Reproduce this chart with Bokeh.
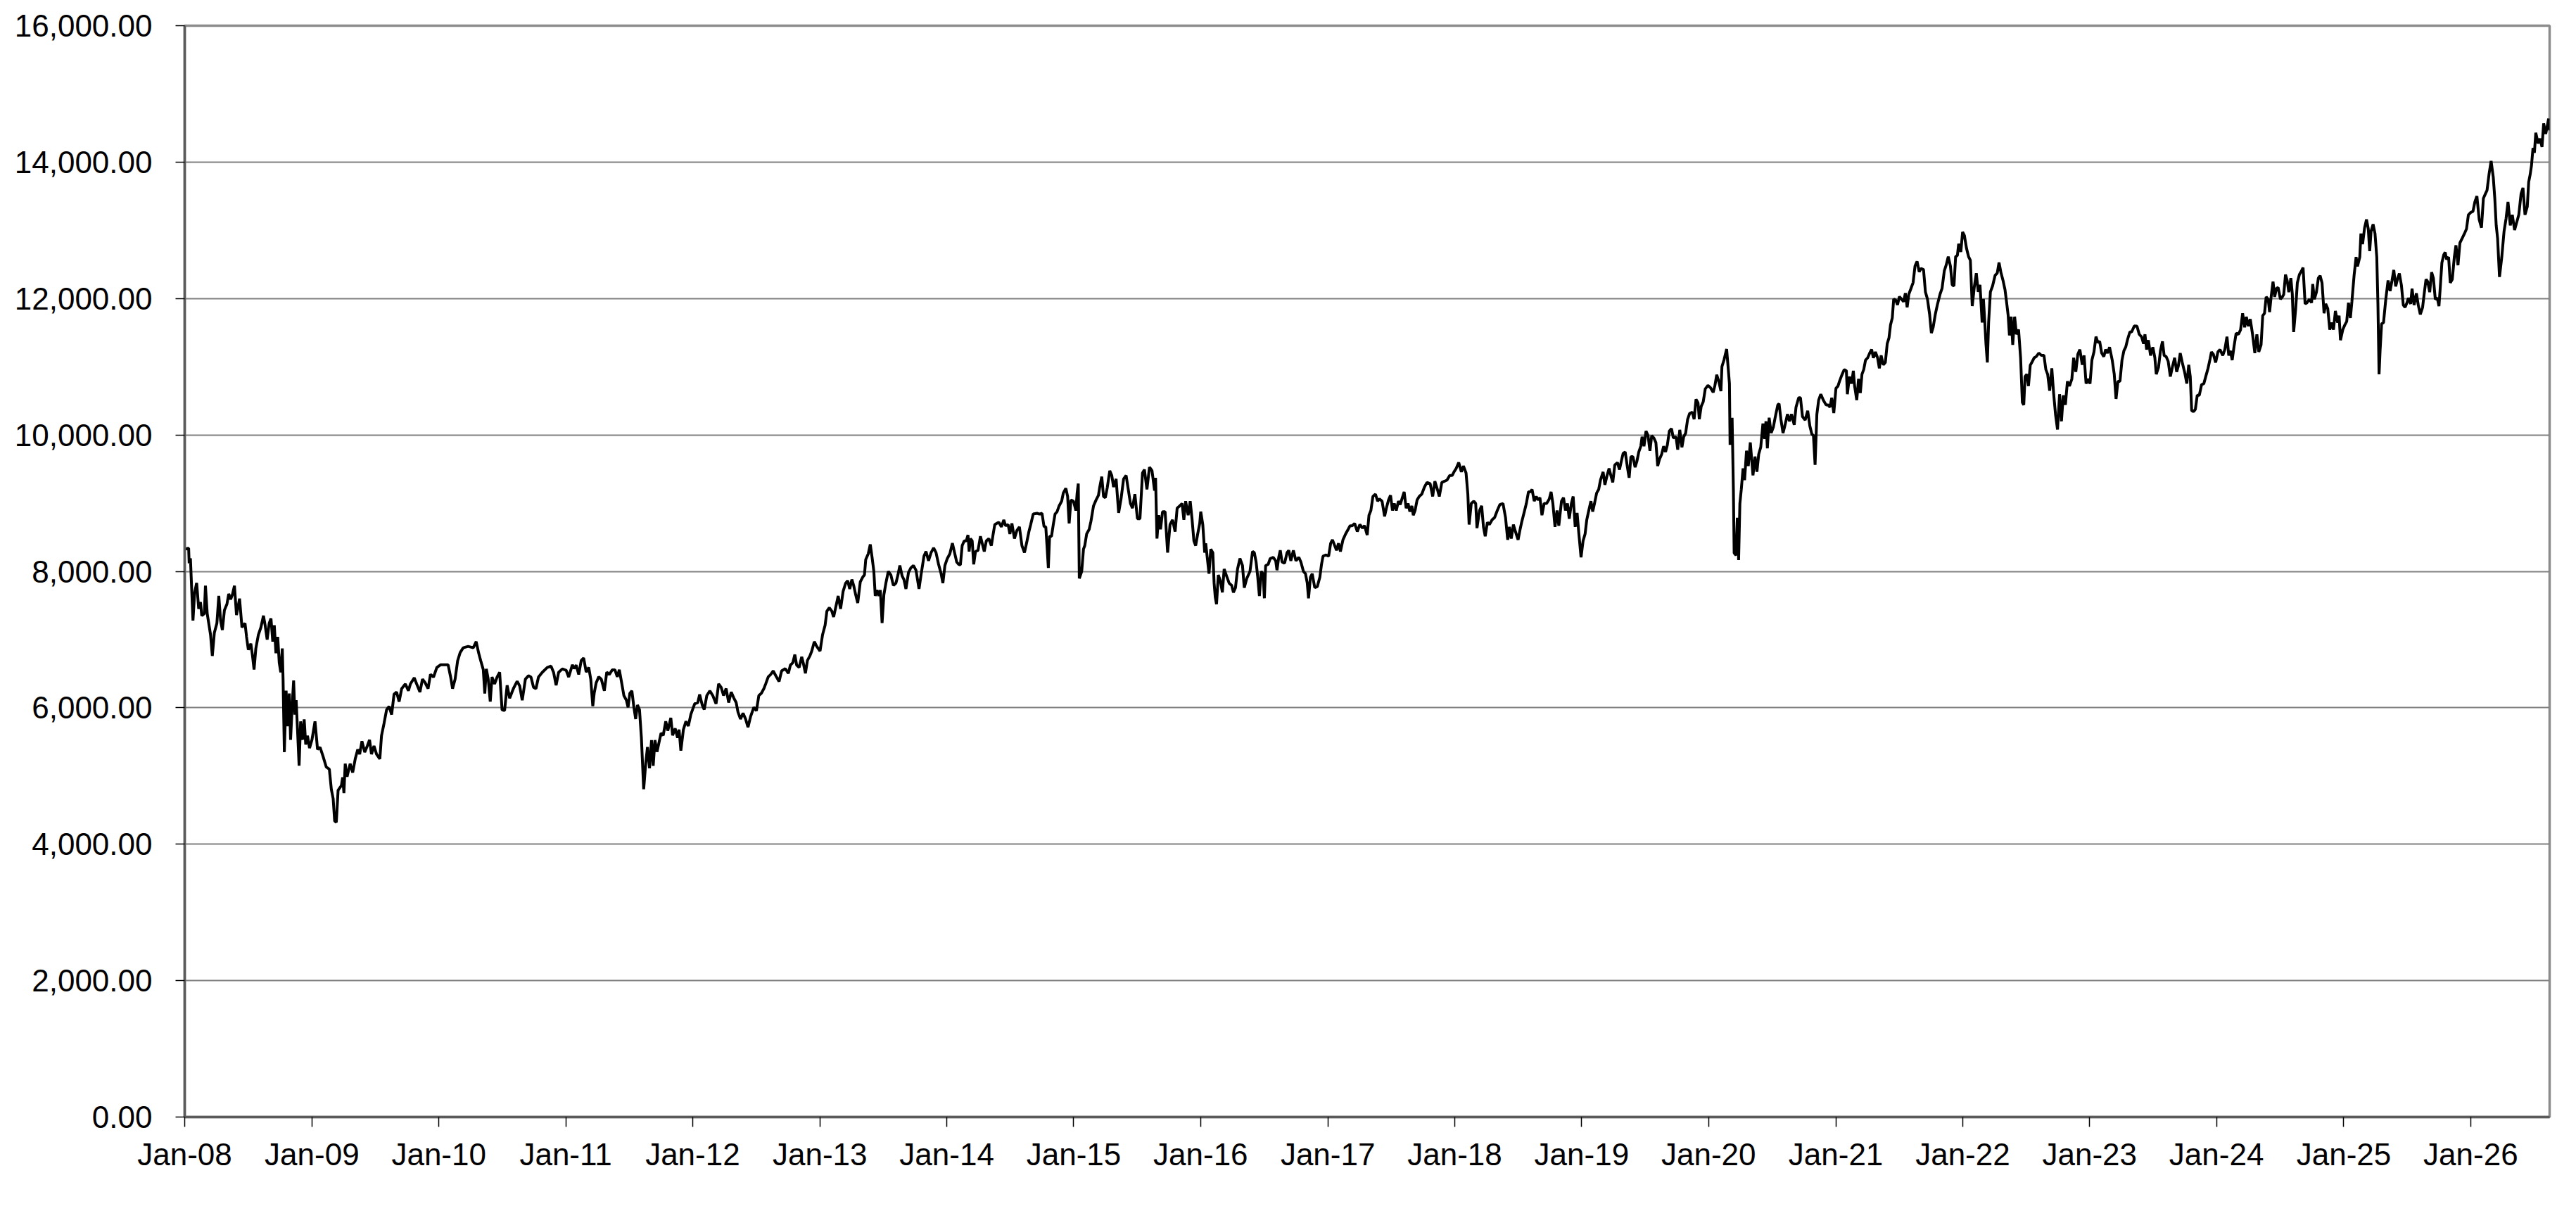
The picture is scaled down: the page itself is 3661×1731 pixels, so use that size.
from datetime import datetime
from bokeh.plotting import figure
from bokeh.models import Range1d, FixedTicker, NumeralTickFormatter, DatetimeTickFormatter
from bokeh.embed import file_html
from bokeh.resources import INLINE

# ---- data: decimal-year dates and index levels ----
years_2008_2010 = [2008.005, 2008.031, 2008.035, 2008.045, 2008.065, 2008.078, 2008.094, 2008.110, 2008.124, 2008.134,
    2008.154, 2008.163, 2008.177, 2008.203, 2008.217, 2008.233, 2008.253, 2008.268, 2008.282, 2008.296,
    2008.312, 2008.332, 2008.346, 2008.361, 2008.375, 2008.391, 2008.407, 2008.431, 2008.450, 2008.474,
    2008.486, 2008.500, 2008.520, 2008.533, 2008.545, 2008.559, 2008.579, 2008.599, 2008.619, 2008.632,
    2008.648, 2008.664, 2008.678, 2008.692, 2008.704, 2008.717, 2008.731, 2008.743, 2008.755, 2008.767,
    2008.773, 2008.783, 2008.797, 2008.810, 2008.822, 2008.832, 2008.846, 2008.856, 2008.866, 2008.876,
    2008.886, 2008.899, 2008.911, 2008.925, 2008.939, 2008.951, 2008.965, 2008.981, 2009.000, 2009.024,
    2009.044, 2009.064, 2009.087, 2009.113, 2009.137, 2009.153, 2009.167, 2009.179, 2009.192, 2009.206,
    2009.232, 2009.242, 2009.252, 2009.262, 2009.277, 2009.301, 2009.321, 2009.341, 2009.361, 2009.376,
    2009.394, 2009.416, 2009.436, 2009.454, 2009.469, 2009.489, 2009.509, 2009.535, 2009.548, 2009.568,
    2009.588, 2009.608, 2009.628, 2009.647, 2009.667, 2009.687, 2009.707, 2009.736, 2009.760, 2009.776,
    2009.806, 2009.825, 2009.851, 2009.871, 2009.891, 2009.915, 2009.934, 2009.958, 2009.984, 2010.013,
    2010.043, 2010.073, 2010.093, 2010.108, 2010.128, 2010.148, 2010.168, 2010.192, 2010.231, 2010.271,
    2010.294, 2010.314, 2010.330, 2010.350, 2010.362, 2010.374, 2010.389, 2010.405, 2010.419, 2010.439,
    2010.459, 2010.479, 2010.498, 2010.518, 2010.538, 2010.558, 2010.587, 2010.617, 2010.637, 2010.657,
    2010.682, 2010.706, 2010.726, 2010.746, 2010.765, 2010.785, 2010.815, 2010.854, 2010.884, 2010.904,
    2010.924, 2010.944, 2010.973, 2011.003, 2011.023, 2011.052]
values_2008_2010 = [8326, 8340, 8120, 8190, 7280, 7690, 7830, 7450, 7550, 7350,
    7380, 7790, 7380, 7070, 6760, 7100, 7240, 7640, 7280, 7140,
    7430, 7520, 7670, 7590, 7660, 7790, 7360, 7600, 7180, 7240,
    7040, 6850, 6940, 6760, 6560, 6870, 7070, 7180, 7350, 7210,
    7000, 7240, 7310, 6970, 7210, 6800, 7040, 6660, 6520, 6870,
    6420, 5350, 6250, 5730, 6210, 5530, 6080, 6400, 5900, 6110,
    5700, 5150, 5800, 5530, 5830, 5460, 5590, 5410, 5530, 5800,
    5390, 5420, 5290, 5130, 5100, 4800, 4670, 4340, 4320, 4790,
    4860, 4980, 4750, 5180, 4990, 5180, 5050, 5250, 5390, 5320,
    5510, 5350, 5440, 5530, 5320, 5440, 5320, 5250, 5590, 5770,
    5970, 6020, 5900, 6200, 6230, 6090, 6280, 6350, 6250, 6350,
    6440, 6350, 6230, 6420, 6370, 6280, 6490, 6450, 6590, 6630,
    6630, 6630, 6450, 6280, 6420, 6690, 6810, 6880, 6900, 6880,
    6970, 6800, 6690, 6560, 6210, 6570, 6420, 6090, 6450, 6350,
    6450, 6520, 5970, 5960, 6330, 6140, 6280, 6390, 6320, 6110,
    6420, 6470, 6450, 6300, 6280, 6450, 6520, 6590, 6610, 6520,
    6330, 6520, 6570, 6550, 6450, 6630]

years_2011_2013 = [2011.066, 2011.082, 2011.102, 2011.122, 2011.141, 2011.161, 2011.181, 2011.197, 2011.213, 2011.224,
    2011.240, 2011.260, 2011.280, 2011.304, 2011.323, 2011.343, 2011.367, 2011.387, 2011.406, 2011.422,
    2011.442, 2011.458, 2011.478, 2011.491, 2011.505, 2011.521, 2011.537, 2011.551, 2011.565, 2011.581,
    2011.596, 2011.614, 2011.630, 2011.644, 2011.660, 2011.676, 2011.689, 2011.703, 2011.719, 2011.735,
    2011.751, 2011.768, 2011.788, 2011.804, 2011.828, 2011.842, 2011.862, 2011.881, 2011.893, 2011.907,
    2011.927, 2011.947, 2011.966, 2011.986, 2012.016, 2012.040, 2012.055, 2012.075, 2012.091, 2012.111,
    2012.135, 2012.158, 2012.184, 2012.204, 2012.224, 2012.243, 2012.263, 2012.283, 2012.303, 2012.323,
    2012.342, 2012.356, 2012.376, 2012.396, 2012.416, 2012.435, 2012.455, 2012.481, 2012.501, 2012.520,
    2012.540, 2012.560, 2012.574, 2012.594, 2012.613, 2012.633, 2012.653, 2012.679, 2012.699, 2012.728,
    2012.752, 2012.768, 2012.787, 2012.803, 2012.817, 2012.837, 2012.857, 2012.871, 2012.886, 2012.902,
    2012.922, 2012.936, 2012.956, 2012.975, 2013.001, 2013.021, 2013.041, 2013.055, 2013.074, 2013.094,
    2013.108, 2013.124, 2013.144, 2013.163, 2013.183, 2013.203, 2013.219, 2013.235, 2013.252, 2013.266,
    2013.282, 2013.298, 2013.318, 2013.337, 2013.351, 2013.361, 2013.381, 2013.397, 2013.411, 2013.425,
    2013.436, 2013.450, 2013.464, 2013.476, 2013.490, 2013.504, 2013.520, 2013.539, 2013.559, 2013.579,
    2013.599, 2013.615, 2013.630, 2013.648, 2013.662, 2013.678, 2013.698, 2013.717, 2013.737, 2013.757,
    2013.781, 2013.797, 2013.820, 2013.836, 2013.856, 2013.876, 2013.896, 2013.915, 2013.935, 2013.955,
    2013.969, 2013.985, 2014.004, 2014.024, 2014.044]
values_2011_2013 = [6574, 6625, 6488, 6694, 6729, 6523, 6591, 6419, 6024, 6213,
    6368, 6454, 6419, 6248, 6523, 6488, 6557, 6557, 6454, 6557,
    6351, 6179, 6110, 6007, 6213, 6248, 6007, 5835, 6041, 5973,
    5560, 4805, 5183, 5423, 5114, 5526, 5148, 5526, 5354, 5492,
    5629, 5595, 5801, 5664, 5853, 5595, 5698, 5560, 5681, 5371,
    5681, 5801, 5732, 5904, 6059, 6076, 6196, 6041, 5973, 6179,
    6248, 6179, 6059, 6351, 6299, 6179, 6282, 6076, 6230, 6145,
    6076, 5938, 5835, 5921, 5835, 5715, 5870, 6007, 5956, 6179,
    6213, 6282, 6351, 6454, 6488, 6540, 6471, 6385, 6540, 6574,
    6505, 6626, 6660, 6780, 6626, 6591, 6746, 6643, 6505, 6694,
    6763, 6832, 6969, 6900, 6832, 7072, 7210, 7416, 7467, 7416,
    7330, 7467, 7639, 7450, 7708, 7828, 7863, 7742, 7880, 7794,
    7656, 7536, 7845, 7914, 7948, 8172, 8258, 8395, 8206, 8000,
    7639, 7725, 7639, 7725, 7244, 7656, 7828, 8000, 7948, 7794,
    7828, 7948, 8086, 7931, 7880, 7742, 7983, 8052, 8086, 8017,
    7742, 7948, 8223, 8292, 8155, 8275, 8344, 8275, 8103, 7966,
    7828, 8086, 8189, 8258, 8412]

years_2014_2016 = [2014.078, 2014.093, 2014.107, 2014.121, 2014.137, 2014.153, 2014.167, 2014.176, 2014.186, 2014.200,
    2014.212, 2014.226, 2014.246, 2014.265, 2014.279, 2014.295, 2014.311, 2014.331, 2014.351, 2014.364,
    2014.378, 2014.394, 2014.410, 2014.430, 2014.449, 2014.463, 2014.483, 2014.497, 2014.513, 2014.533,
    2014.552, 2014.572, 2014.592, 2014.612, 2014.632, 2014.647, 2014.661, 2014.681, 2014.711, 2014.730,
    2014.750, 2014.766, 2014.780, 2014.790, 2014.800, 2014.810, 2014.825, 2014.839, 2014.853, 2014.869,
    2014.885, 2014.905, 2014.918, 2014.938, 2014.952, 2014.964, 2014.978, 2014.998, 2015.017, 2015.027,
    2015.036, 2015.044, 2015.063, 2015.077, 2015.087, 2015.102, 2015.122, 2015.136, 2015.156, 2015.176,
    2015.195, 2015.205, 2015.221, 2015.235, 2015.249, 2015.265, 2015.284, 2015.300, 2015.314, 2015.334,
    2015.354, 2015.373, 2015.393, 2015.413, 2015.427, 2015.447, 2015.463, 2015.482, 2015.502, 2015.522,
    2015.542, 2015.557, 2015.577, 2015.597, 2015.617, 2015.637, 2015.645, 2015.656, 2015.670, 2015.684,
    2015.700, 2015.720, 2015.740, 2015.759, 2015.779, 2015.799, 2015.815, 2015.835, 2015.854, 2015.868,
    2015.882, 2015.902, 2015.918, 2015.933, 2015.947, 2015.961, 2015.977, 2015.993, 2016.001, 2016.017,
    2016.032, 2016.040, 2016.056, 2016.066, 2016.080, 2016.096, 2016.106, 2016.115, 2016.125, 2016.139,
    2016.155, 2016.171, 2016.185, 2016.204, 2016.224, 2016.244, 2016.258, 2016.274, 2016.290, 2016.309,
    2016.329, 2016.343, 2016.363, 2016.388, 2016.408, 2016.422, 2016.436, 2016.448, 2016.462, 2016.476,
    2016.491, 2016.501, 2016.511, 2016.531, 2016.547, 2016.571, 2016.590, 2016.600, 2016.614, 2016.626,
    2016.640, 2016.660, 2016.679, 2016.693, 2016.709, 2016.729, 2016.749, 2016.772, 2016.788, 2016.808,
    2016.824, 2016.838, 2016.848, 2016.863, 2016.877, 2016.897, 2016.917, 2016.937, 2016.950, 2016.962,
    2016.986, 2017.006, 2017.022, 2017.036]
values_2014_2016 = [8137, 8103, 8096, 8377, 8446, 8446, 8532, 8291, 8480, 8446,
    8103, 8291, 8308, 8514, 8411, 8291, 8446, 8480, 8377, 8532,
    8686, 8703, 8720, 8652, 8755, 8669, 8686, 8549, 8703, 8480,
    8600, 8652, 8377, 8274, 8446, 8583, 8686, 8840, 8851, 8840,
    8851, 8658, 8652, 8360, 8051, 8514, 8514, 8686, 8840, 8875,
    8960, 9029, 9149, 9218, 9098, 8703, 9046, 9029, 8892, 9149,
    9286, 7897, 8000, 8326, 8377, 8549, 8617, 8737, 8960, 9046,
    9115, 9235, 9389, 9098, 9080, 9235, 9475, 9406, 9235, 9355,
    8857, 9063, 9355, 9406, 9235, 8995, 8926, 9132, 8772, 8772,
    9441, 9492, 9201, 9527, 9475, 9183, 9372, 8480, 8823, 8617,
    8875, 8875, 8274, 8686, 8755, 8583, 8926, 8960, 8995, 8755,
    9029, 8823, 9029, 8755, 8446, 8377, 8549, 8703, 8875, 8686,
    8274, 8411, 8137, 7965, 8326, 8274, 7828, 7622, 7519, 7948,
    7862, 7691, 8034, 7931, 7828, 7794, 7691, 7760, 8034, 8188,
    8085, 7760, 7897, 8000, 8291, 8274, 8137, 7931, 7639, 8000,
    7965, 7605, 8085, 8103, 8188, 8206, 8154, 8017, 8206, 8308,
    8137, 8120, 8274, 8308, 8154, 8308, 8154, 8206, 8137, 8000,
    7965, 7828, 7605, 7914, 7965, 7760, 7777, 7914, 8103, 8223,
    8240, 8223, 8411, 8463]

years_2017_2020 = [2017.068, 2017.084, 2017.099, 2017.119, 2017.140, 2017.160, 2017.175, 2017.191, 2017.211, 2017.232,
    2017.252, 2017.273, 2017.289, 2017.310, 2017.324, 2017.339, 2017.355, 2017.375, 2017.392, 2017.406,
    2017.427, 2017.447, 2017.461, 2017.478, 2017.494, 2017.509, 2017.523, 2017.539, 2017.556, 2017.570,
    2017.584, 2017.601, 2017.617, 2017.632, 2017.646, 2017.662, 2017.673, 2017.687, 2017.703, 2017.720,
    2017.740, 2017.761, 2017.781, 2017.806, 2017.826, 2017.843, 2017.863, 2017.878, 2017.898, 2017.919,
    2017.939, 2017.960, 2017.980, 2017.994, 2018.011, 2018.031, 2018.052, 2018.068, 2018.089, 2018.103,
    2018.113, 2018.130, 2018.150, 2018.165, 2018.175, 2018.195, 2018.212, 2018.226, 2018.240, 2018.257,
    2018.273, 2018.294, 2018.314, 2018.335, 2018.355, 2018.380, 2018.400, 2018.417, 2018.431, 2018.445,
    2018.462, 2018.478, 2018.499, 2018.513, 2018.527, 2018.548, 2018.564, 2018.581, 2018.595, 2018.609,
    2018.626, 2018.642, 2018.656, 2018.671, 2018.687, 2018.704, 2018.724, 2018.745, 2018.759, 2018.773,
    2018.790, 2018.806, 2018.820, 2018.841, 2018.857, 2018.872, 2018.888, 2018.902, 2018.919, 2018.933,
    2018.949, 2018.964, 2018.978, 2018.995, 2019.011, 2019.027, 2019.040, 2019.056, 2019.073, 2019.087,
    2019.101, 2019.118, 2019.134, 2019.148, 2019.169, 2019.183, 2019.200, 2019.216, 2019.230, 2019.245,
    2019.261, 2019.282, 2019.298, 2019.312, 2019.327, 2019.343, 2019.359, 2019.374, 2019.388, 2019.404,
    2019.421, 2019.435, 2019.450, 2019.466, 2019.476, 2019.491, 2019.507, 2019.523, 2019.538, 2019.552,
    2019.569, 2019.585, 2019.599, 2019.614, 2019.630, 2019.646, 2019.661, 2019.675, 2019.691, 2019.708,
    2019.722, 2019.743, 2019.757, 2019.773, 2019.790, 2019.804, 2019.819, 2019.835, 2019.851, 2019.872,
    2019.886, 2019.901, 2019.917, 2019.927, 2019.942, 2019.958, 2019.974, 2019.995, 2020.015, 2020.036,
    2020.050, 2020.064, 2020.081, 2020.097, 2020.105, 2020.122, 2020.142]
values_2017_2020 = [8308, 8411, 8291, 8463, 8549, 8617, 8669, 8669, 8703, 8583,
    8686, 8634, 8669, 8532, 8823, 8892, 9098, 9132, 9029, 9063,
    9029, 8806, 8926, 9046, 9115, 8892, 8995, 8892, 9029, 8978,
    9063, 9166, 8926, 8995, 8875, 8960, 8823, 8892, 9046, 9098,
    9132, 9235, 9304, 9286, 9098, 9321, 9201, 9098, 9304, 9321,
    9338, 9406, 9406, 9458, 9509, 9595, 9458, 9544, 9441, 9132,
    8686, 8995, 9029, 8995, 8634, 8892, 8960, 8652, 8514, 8720,
    8686, 8755, 8789, 8892, 8978, 8995, 8789, 8463, 8652, 8480,
    8686, 8583, 8463, 8600, 8720, 8875, 8995, 9166, 9166, 9201,
    9029, 9098, 9046, 9080, 8823, 8995, 8995, 9063, 9166, 8995,
    8652, 8892, 8669, 9029, 9080, 8892, 8995, 8772, 8995, 9098,
    8652, 8857, 8549, 8206, 8446, 8549, 8755, 8892, 9029, 8875,
    8995, 9149, 9201, 9338, 9458, 9269, 9406, 9509, 9406, 9304,
    9561, 9595, 9492, 9612, 9732, 9750, 9544, 9372, 9681, 9681,
    9527, 9612, 9750, 9835, 9973, 9835, 10058, 9990, 9767, 9990,
    9955, 9887, 9544, 9647, 9715, 9835, 9750, 9852, 10058, 10093,
    9955, 9973, 9784, 10075, 9818, 9973, 10024, 10230, 10316, 10333,
    10230, 10522, 10470, 10230, 10419, 10487, 10676, 10727, 10693, 10624,
    10727, 10882, 10779, 10642, 11002, 11105, 11259]

years_2020_2023 = [2020.164, 2020.169, 2020.185, 2020.195, 2020.201, 2020.216, 2020.226, 2020.236, 2020.246, 2020.257,
    2020.271, 2020.283, 2020.298, 2020.312, 2020.328, 2020.349, 2020.365, 2020.380, 2020.394, 2020.410,
    2020.427, 2020.441, 2020.451, 2020.462, 2020.476, 2020.492, 2020.509, 2020.523, 2020.544, 2020.554,
    2020.568, 2020.585, 2020.599, 2020.620, 2020.636, 2020.652, 2020.673, 2020.687, 2020.708, 2020.722,
    2020.738, 2020.759, 2020.779, 2020.796, 2020.812, 2020.824, 2020.837, 2020.851, 2020.865, 2020.882,
    2020.902, 2020.923, 2020.939, 2020.954, 2020.968, 2020.984, 2021.001, 2021.017, 2021.029, 2021.046,
    2021.066, 2021.083, 2021.091, 2021.107, 2021.124, 2021.138, 2021.148, 2021.165, 2021.179, 2021.193,
    2021.206, 2021.220, 2021.234, 2021.251, 2021.267, 2021.282, 2021.296, 2021.312, 2021.329, 2021.343,
    2021.357, 2021.374, 2021.390, 2021.405, 2021.419, 2021.431, 2021.445, 2021.456, 2021.472, 2021.486,
    2021.501, 2021.517, 2021.534, 2021.548, 2021.562, 2021.575, 2021.589, 2021.609, 2021.624, 2021.640,
    2021.657, 2021.671, 2021.691, 2021.706, 2021.722, 2021.739, 2021.753, 2021.767, 2021.784, 2021.800,
    2021.821, 2021.837, 2021.855, 2021.870, 2021.886, 2021.903, 2021.917, 2021.931, 2021.944, 2021.958,
    2021.968, 2021.985, 2021.999, 2022.013, 2022.030, 2022.046, 2022.060, 2022.075, 2022.091, 2022.107,
    2022.122, 2022.136, 2022.153, 2022.163, 2022.173, 2022.183, 2022.194, 2022.204, 2022.218, 2022.235,
    2022.255, 2022.272, 2022.286, 2022.300, 2022.317, 2022.333, 2022.347, 2022.358, 2022.368, 2022.382,
    2022.394, 2022.409, 2022.423, 2022.440, 2022.456, 2022.470, 2022.481, 2022.491, 2022.505, 2022.518,
    2022.532, 2022.546, 2022.563, 2022.579, 2022.599, 2022.620, 2022.640, 2022.655, 2022.669, 2022.685,
    2022.702, 2022.716, 2022.731, 2022.747, 2022.763, 2022.778, 2022.792, 2022.809, 2022.825, 2022.841,
    2022.860, 2022.874, 2022.891, 2022.907, 2022.923, 2022.942, 2022.956, 2022.972, 2022.989, 2023.003,
    2023.018, 2023.034, 2023.050, 2023.065, 2023.079, 2023.095, 2023.112, 2023.126, 2023.141, 2023.157,
    2023.178, 2023.194, 2023.208, 2023.223, 2023.239, 2023.255, 2023.270, 2023.284, 2023.300, 2023.317,
    2023.331, 2023.352]
values_2020_2023 = [10752, 9855, 10252, 9200, 8269, 8235, 8786, 8166, 8993, 9200,
    9510, 9338, 9769, 9545, 9890, 9407, 9683, 9459, 9717, 9821,
    10166, 9941, 10200, 9804, 10252, 10028, 10114, 10252, 10441, 10459,
    10235, 10028, 10131, 10304, 10200, 10304, 10148, 10407, 10545, 10545,
    10269, 10217, 10355, 10131, 10010, 9993, 9562, 10304, 10510, 10597,
    10510, 10441, 10441, 10407, 10545, 10321, 10683, 10717, 10786, 10872,
    10959, 10941, 10597, 10855, 10752, 10941, 10717, 10510, 10821, 10614,
    10890, 10959, 11097, 11131, 11200, 11252, 11131, 11217, 11131, 10976,
    11166, 11028, 11062, 11338, 11424, 11614, 11717, 11993, 11976, 11907,
    12028, 11993, 11952, 12079, 11872, 12062, 12131, 12234, 12476, 12545,
    12390, 12441, 12424, 12097, 11993, 11769, 11493, 11579, 11769, 11907,
    12062, 12148, 12407, 12493, 12614, 12476, 12200, 12183, 12614, 12631,
    12803, 12683, 12976, 12924, 12734, 12614, 12562, 11890, 12166, 12372,
    12097, 12200, 11648, 11993, 11683, 11338, 11062, 11648, 12097, 12183,
    12338, 12372, 12528, 12390, 12269, 12131, 11924, 11752, 11459, 11734,
    11321, 11734, 11476, 11545, 11131, 10476, 10441, 10855, 10890, 10717,
    11021, 11069, 11131, 11148, 11200, 11166, 11166, 10959, 10890, 10648,
    10976, 10614, 10304, 10079, 10597, 10200, 10579, 10441, 10786, 10717,
    10821, 11131, 10924, 11183, 11252, 11028, 11166, 10752, 10821, 10752,
    11097, 11217, 11441, 11355, 11372, 11200, 11148, 11252, 11200, 11286,
    11097, 10890, 10528, 10786, 10786, 11097, 11234, 11286, 11407, 11510,
    11510, 11597]

years_2023_2026 = [2023.373, 2023.391, 2023.409, 2023.425, 2023.436, 2023.449, 2023.463, 2023.480, 2023.498, 2023.514,
    2023.525, 2023.543, 2023.558, 2023.574, 2023.587, 2023.603, 2023.619, 2023.636, 2023.654, 2023.670,
    2023.686, 2023.699, 2023.714, 2023.730, 2023.748, 2023.766, 2023.781, 2023.793, 2023.804, 2023.819,
    2023.833, 2023.848, 2023.864, 2023.882, 2023.900, 2023.915, 2023.933, 2023.949, 2023.960, 2023.975,
    2023.993, 2024.011, 2024.027, 2024.049, 2024.065, 2024.082, 2024.096, 2024.109, 2024.123, 2024.138,
    2024.154, 2024.172, 2024.189, 2024.205, 2024.221, 2024.234, 2024.250, 2024.265, 2024.283, 2024.301,
    2024.317, 2024.332, 2024.350, 2024.363, 2024.377, 2024.390, 2024.406, 2024.417, 2024.428, 2024.444,
    2024.457, 2024.470, 2024.484, 2024.502, 2024.517, 2024.528, 2024.542, 2024.555, 2024.568, 2024.584,
    2024.595, 2024.606, 2024.622, 2024.635, 2024.651, 2024.667, 2024.680, 2024.696, 2024.711, 2024.729,
    2024.747, 2024.756, 2024.769, 2024.785, 2024.800, 2024.814, 2024.829, 2024.845, 2024.858, 2024.874,
    2024.890, 2024.903, 2024.919, 2024.934, 2024.952, 2024.963, 2024.974, 2024.992, 2025.008, 2025.023,
    2025.037, 2025.052, 2025.064, 2025.081, 2025.097, 2025.108, 2025.126, 2025.135, 2025.148, 2025.164,
    2025.179, 2025.193, 2025.204, 2025.215, 2025.231, 2025.246, 2025.260, 2025.269, 2025.278, 2025.286,
    2025.298, 2025.313, 2025.331, 2025.349, 2025.365, 2025.380, 2025.394, 2025.409, 2025.425, 2025.438,
    2025.454, 2025.469, 2025.483, 2025.498, 2025.509, 2025.527, 2025.538, 2025.554, 2025.572, 2025.587,
    2025.603, 2025.621, 2025.634, 2025.648, 2025.661, 2025.677, 2025.692, 2025.706, 2025.721, 2025.737,
    2025.750, 2025.759, 2025.773, 2025.788, 2025.799, 2025.810, 2025.826, 2025.839, 2025.855, 2025.871,
    2025.884, 2025.900, 2025.915, 2025.933, 2025.951, 2025.967, 2025.982, 2026.000, 2026.018, 2026.033,
    2026.049, 2026.067, 2026.085, 2026.100, 2026.116, 2026.129, 2026.145, 2026.161, 2026.178, 2026.190,
    2026.201, 2026.212, 2026.227, 2026.245, 2026.263, 2026.279, 2026.294, 2026.312, 2026.328, 2026.346,
    2026.361, 2026.379, 2026.397, 2026.412, 2026.428, 2026.446, 2026.457, 2026.468, 2026.479, 2026.491,
    2026.502, 2026.513, 2026.531, 2026.546, 2026.562, 2026.575, 2026.591, 2026.602, 2026.614, 2026.622]
values_2023_2026 = [11595, 11475, 11440, 11337, 11475, 11251, 11389, 11165, 11286, 11131,
    10890, 10994, 11234, 11371, 11165, 11148, 11079, 10856, 11011, 11131,
    10925, 11011, 11200, 11062, 10925, 10753, 11028, 10856, 10358, 10341,
    10375, 10581, 10581, 10736, 10753, 10856, 10976, 11114, 11217, 11182,
    11062, 11217, 11251, 11165, 11251, 11440, 11165, 11234, 11097, 11303,
    11492, 11475, 11543, 11784, 11578, 11732, 11595, 11698, 11475, 11200,
    11475, 11217, 11320, 11749, 11784, 12024, 11990, 11801, 12007, 12248,
    12024, 12145, 12162, 11990, 12024, 12059, 12351, 12265, 12093, 12299,
    12076, 11509, 11853, 12230, 12351, 12402, 12454, 11921, 11938, 11990,
    11938, 12213, 11990, 12093, 12299, 12334, 12230, 11784, 11921, 11853,
    11543, 11646, 11543, 11818, 11646, 11749, 11389, 11543, 11612, 11664,
    11938, 11715, 11956, 12334, 12608, 12471, 12608, 12952, 12797, 13038,
    13158, 13021, 12694, 12986, 13089, 12952, 12608, 11921, 10890, 11234,
    11629, 11646, 11990, 12265, 12110, 12265, 12419, 12179, 12299, 12368,
    12196, 11904, 11870, 11938, 12007, 11921, 12145, 11904, 12076, 11904,
    11767, 11870, 12076, 12282, 12248, 12093, 12385, 12299, 11990, 12007,
    11887, 12127, 12523, 12643, 12677, 12574, 12608, 12230, 12282, 12608,
    12780, 12488, 12815, 12883, 12952, 13021, 13227, 13261, 13278, 13416,
    13502, 13158, 13038, 13467, 13536, 13588, 13828, 14017, 13777, 13467,
    13072, 12883, 12316, 12608, 12986, 13175, 13416, 13072, 13227, 13004,
    13107, 13227, 13536, 13622, 13227, 13347, 13708, 13811, 13948, 14206,
    14137, 14430, 14275, 14344, 14223, 14567, 14412, 14515, 14636, 14464]

y_ticks = [0, 2000, 4000, 6000, 8000, 10000, 12000, 14000, 16000]
tick_years = list(range(2008, 2027))


def to_dt(y):
    yr = int(y)
    start = datetime(yr, 1, 1)
    return start + (datetime(yr + 1, 1, 1) - start) * (y - yr)


def to_ms(dt):
    return (dt - datetime(1970, 1, 1)).total_seconds() * 1000.0


dec_years = (years_2008_2010 + years_2011_2013 + years_2014_2016 +
             years_2017_2020 + years_2020_2023 + years_2023_2026)
levels = (values_2008_2010 + values_2011_2013 + values_2014_2016 +
          values_2017_2020 + values_2020_2023 + values_2023_2026)
dates = [to_dt(y) for y in dec_years]

x_start = datetime(2008, 1, 1)
x_end = datetime(2026, 8, 16)

p = figure(frame_width=3361, frame_height=1551,
           x_axis_type="datetime",
           x_range=Range1d(start=to_ms(x_start), end=to_ms(x_end)),
           y_range=Range1d(start=0, end=16000),
           output_backend="svg", toolbar_location=None,
           min_border_left=262, min_border_right=22,
           min_border_top=36, min_border_bottom=128,
           background_fill_color="white", border_fill_color="white")

yt = FixedTicker(ticks=y_ticks, minor_ticks=[])
p.yaxis[0].ticker = yt
p.ygrid[0].ticker = yt
p.ygrid.grid_line_color = "#808080"
p.ygrid.grid_line_width = 2
p.xgrid.visible = False

p.line(x=dates, y=levels, line_color="black", line_width=4)

xt = FixedTicker(ticks=[to_ms(datetime(y, 1, 1)) for y in tick_years], minor_ticks=[])
p.xaxis[0].ticker = xt
fmt = "%b-%y"
p.xaxis[0].formatter = DatetimeTickFormatter(years=fmt, months=fmt, days=fmt, hours=fmt,
                                             hourmin=fmt, minutes=fmt, context=None)
p.yaxis[0].formatter = NumeralTickFormatter(format="0,0.00")

p.outline_line_color = "#8c8c8c"
p.outline_line_width = 3.5

for ax in (p.xaxis[0], p.yaxis[0]):
    ax.axis_line_color = "#5a5a5a"
    ax.axis_line_width = 3.5
    ax.major_tick_line_color = "black"
    ax.major_tick_line_width = 1.5
    ax.major_tick_in = 0
    ax.minor_tick_line_color = None
    ax.major_label_text_font = "Liberation Sans"
    ax.major_label_text_font_size = "44px"
    ax.major_label_text_color = "black"

p.yaxis[0].major_tick_out = 13
p.yaxis[0].major_label_standoff = 33
p.xaxis[0].major_tick_out = 14
p.xaxis[0].major_label_standoff = 14

open("out.html", "w").write(file_html(p, INLINE))
